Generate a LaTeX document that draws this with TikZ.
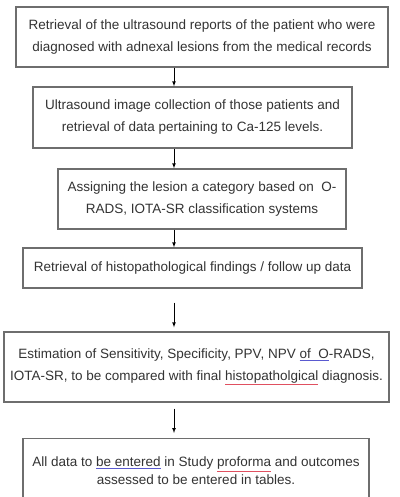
\documentclass[tikz,border=0pt]{standalone}
\usepackage{fontspec}
\setmainfont{Liberation Sans}
\usepackage{tikz}
\usetikzlibrary{arrows,calc}

\definecolor{boxgray}{HTML}{6E6E6E}
\definecolor{txtgray}{HTML}{333333}
\definecolor{spellblue}{HTML}{5A5AD0}
\definecolor{spellred}{HTML}{E05060}

\newcommand{\blueline}[1]{\textcolor{spellblue}{\underline{\textcolor{txtgray}{#1}}}}
\newcommand{\redline}[1]{\textcolor{spellred}{\underline{\textcolor{txtgray}{#1}}}}

\tikzset{
  stage/.style={draw=boxgray, line width=1.4pt, align=center, inner sep=0pt,
    text=txtgray, font=\fontsize{13.5}{22}\selectfont},
  flow/.style={-latex, line width=0.7pt, black}
}

\begin{document}
\begin{tikzpicture}[x=1pt,y=-1pt]
  \useasboundingbox (0,0) rectangle (399,497);
  \fill[white] (0,0) rectangle (399,497);
  \coordinate (axis) at (174,0);

  \node[stage, minimum width=372pt, minimum height=60pt] (retrieve) at (202,37)
    {Retrieval of the ultrasound reports of the patient who were\\
     diagnosed with adnexal lesions from the medical records};
  \node[stage, minimum width=319pt, minimum height=61pt] (collect) at (192.5,117.5)
    {Ultrasound image collection of those patients and\\
     retrieval of data pertaining to Ca-125 levels.};
  \node[stage, minimum width=288pt, minimum height=60pt] (assign) at (202,199)
    {Assigning the lesion a category based on~ O-\\
     RADS, IOTA-SR classification systems};
  \node[stage, minimum width=339pt, minimum height=40pt] (histo) at (192.5,268)
    {Retrieval of histopathological findings / follow up data};
  \node[stage, minimum width=385pt, minimum height=70pt] (estimate) at (196.5,367)
    {Estimation of Sensitivity, Specificity, PPV, NPV \blueline{of~ O}-RADS,\\
     IOTA-SR, to be compared with final \redline{histopatholgical} diagnosis.};
  \node[stage, minimum width=346pt, minimum height=76pt, anchor=north,
    font=\fontsize{13.5}{18}\selectfont] (enter) at (196,438)
    {\\[4pt]All data to \blueline{be entered} in Study \redline{proforma} and outcomes\\
     assessed to be entered in tables.\\[6pt]};

  \draw[flow] (retrieve.south -| axis) -- (collect.north -| axis);
  \draw[flow] (collect.south -| axis) -- (assign.north -| axis);
  \draw[flow] (assign.south -| axis) -- (histo.north -| axis);
  \draw[flow, shorten <=14pt, shorten >=4pt] (histo.south -| axis) -- (estimate.north -| axis);
  \draw[flow, shorten <=6pt, shorten >=5pt] (estimate.south -| axis) -- (enter.north -| axis);
\end{tikzpicture}
\end{document}
